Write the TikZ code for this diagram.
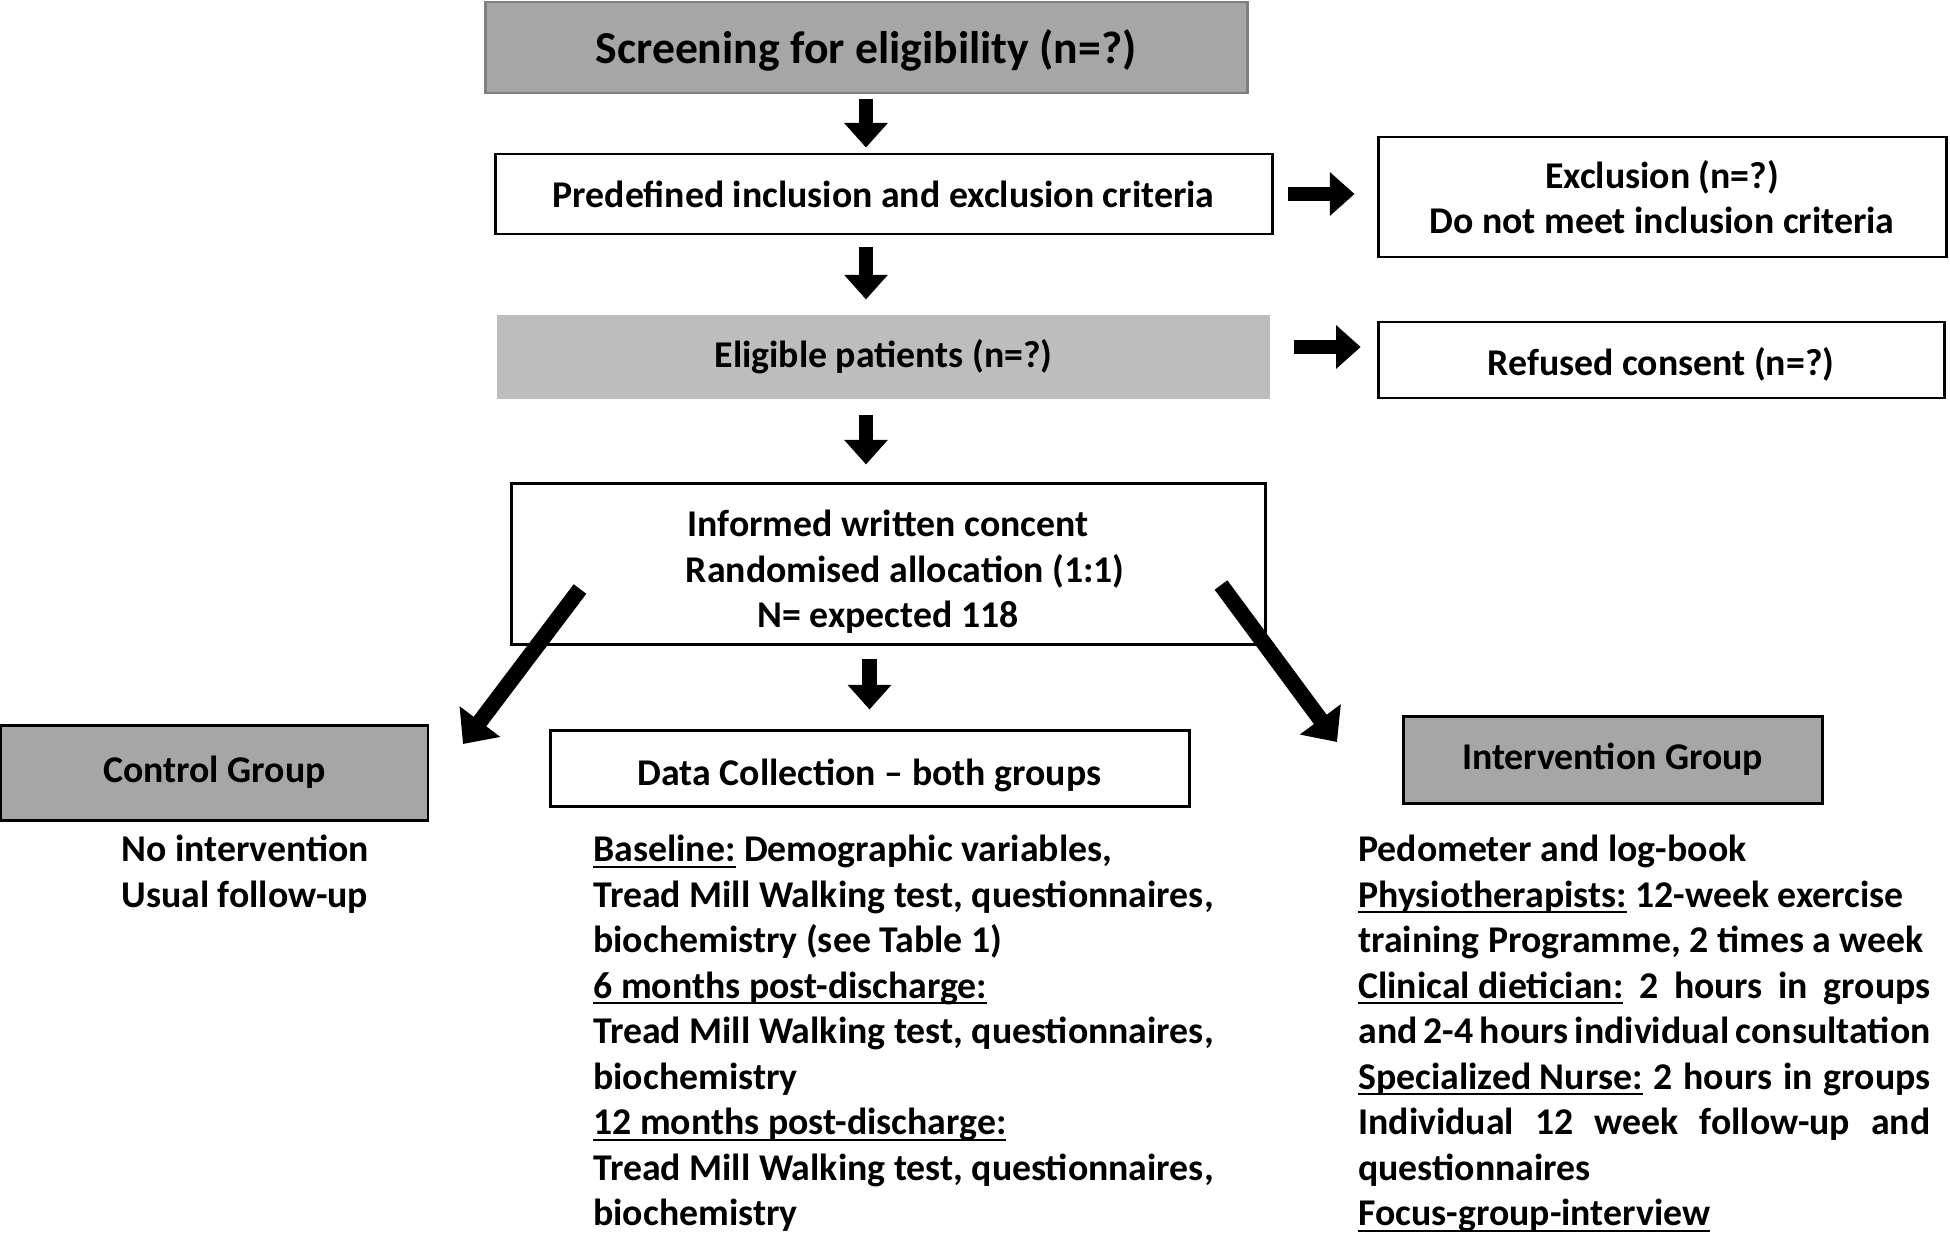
\documentclass[tikz,border=0pt]{standalone}
\usepackage{fontspec}
\setmainfont{Carlito}
\usetikzlibrary{arrows.meta}

\definecolor{boxgrey}{HTML}{A6A6A6}
\definecolor{lightgrey}{HTML}{BDBDBD}
\definecolor{edgegrey}{HTML}{7F7F7F}

% underline as in the source figure: thicker and lower
\newcommand{\ulinetext}[1]{\setbox0\hbox{#1}\rlap{\rule[-3.2pt]{\wd0}{1.1pt}}\box0\relax}

\begin{document}
\begin{tikzpicture}[font=\bfseries\fontsize{21.5}{25.9}\selectfont,
    bigarrow/.style={line width=8pt, -{Triangle[length=14pt,width=24pt]}},
    diagarrow/.style={line width=9pt, -{Triangle[length=16pt,width=28pt]}}]

        \useasboundingbox (0,0) rectangle (39,-24.68);

        \begin{scope}[every node/.style={draw, line width=1.7pt, inner sep=0pt, align=center}]
          \node[fill=boxgrey, draw=edgegrey, minimum width=15.24cm, minimum height=1.82cm,
                font=\bfseries\fontsize{26}{30}\selectfont] (1) at (17.32,-0.95) {\rule{0pt}{23pt}Screening for eligibility (n=?)};
          \node[minimum width=15.54cm, minimum height=1.6cm]  (2) at (17.67,-3.88) {Predefined inclusion and exclusion criteria};
          \node[minimum width=11.36cm, minimum height=2.4cm]  (3) at (33.24,-3.94) {Exclusion (n=?)\\Do not meet inclusion criteria};
          \node[draw=none, fill=lightgrey, minimum width=15.46cm, minimum height=1.68cm] (4) at (17.67,-7.14) {Eligible patients (n=?)};
          \node[minimum width=11.32cm, minimum height=1.52cm] (5) at (33.22,-7.2) {\rule{0pt}{21pt}Refused consent (n=?)};
          \node[minimum width=15.08cm, minimum height=3.22cm] (6) at (17.76,-11.27) {\rule{0pt}{24.5pt}Informed written concent\\
            \hspace*{19.6pt}Randomised allocation (1:1)\\N= expected 118};
          \node[minimum width=12.78cm, minimum height=1.52cm] (7) at (17.39,-15.36) {\rule{0pt}{24pt}Data Collection -- both groups};
          \node[fill=boxgrey, minimum width=8.54cm, minimum height=1.9cm] (8) at (4.29,-15.45) {Control Group};
          \node[fill=boxgrey, minimum width=8.38cm, minimum height=1.74cm] (9) at (32.25,-15.19) {Intervention Group};
        \end{scope}

        \begin{scope}[every node/.style={anchor=north west, inner sep=0pt, align=left}]
          \node (10) at (2.42,-16.70) {No intervention\\Usual follow-up};
          \node (11) at (11.86,-16.70) {\ulinetext{Baseline:} Demographic variables,\\
            Tread Mill Walking test, questionnaires,\\
            biochemistry (see Table 1)\\
            \ulinetext{6 months post-discharge:}\\
            Tread Mill Walking test, questionnaires,\\
            biochemistry\\
            \ulinetext{12 months post-discharge:}\\
            Tread Mill Walking test, questionnaires,\\
            biochemistry};
          \node[text width=11.44cm, align=justify] (12) at (27.16,-16.70) {Pedometer and log-book\\
            \ulinetext{Physiotherapists:} 12-week exercise\\
            training Programme, 2 times a week\\
            \ulinetext{Clinical dietician:} 2 hours in groups\linebreak
            and 2-4 hours individual consultation\linebreak
            \ulinetext{Specialized Nurse:} 2 hours in groups\linebreak
            Individual 12 week follow-up and\linebreak
            questionnaires\\
            \ulinetext{Focus-group-interview}};
        \end{scope}

        \coordinate (ls) at (11.6,-11.78);
        \coordinate (le) at (9.26,-14.88);
        \coordinate (rs) at (24.42,-11.7);
        \coordinate (re) at (26.74,-14.84);

        \begin{scope}[every edge/.style={draw, bigarrow}]
          \path (1.south) edge[shorten <=2.3pt, shorten >=2.8pt] (1.south |- 2.north);
          \path (1.south |- 2.south) edge[shorten <=6.8pt, shorten >=8pt] (1.south |- 4.north);
          \path (1.south |- 4.south) edge[shorten <=8pt, shorten >=9.7pt] (1.south |- 6.north);
          \path (7.north |- 6.south) edge[shorten <=7.4pt, shorten >=10.8pt] (7.north);
          \path (2.east) edge[shorten <=8.5pt, shorten >=12.5pt] (2.east -| 3.west);
          \path ([yshift=5.7pt]4.east) edge[shorten <=13pt, shorten >=9pt] ([yshift=5.7pt]4.east -| 5.west);
          \path (ls) edge[diagarrow] (le);
          \path (rs) edge[diagarrow] (re);
        \end{scope}

      \end{tikzpicture}
\end{document}
